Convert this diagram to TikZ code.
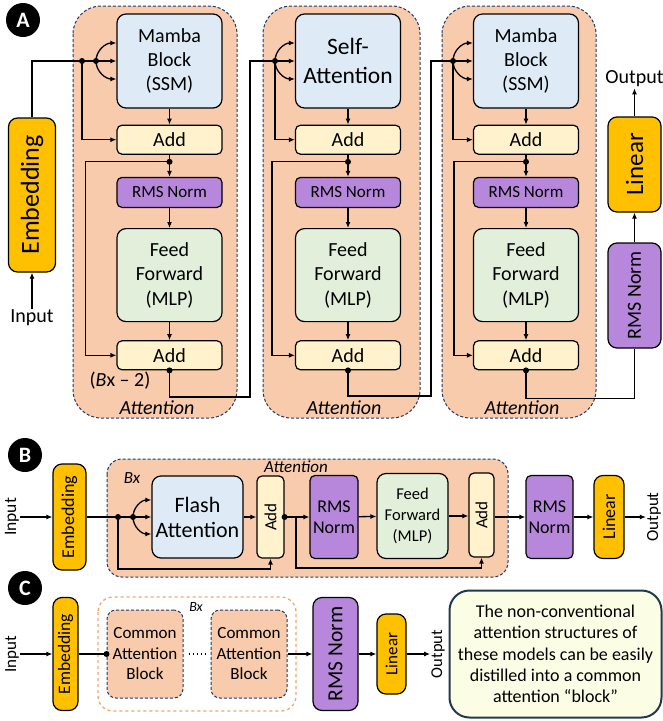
\documentclass[tikz,border=0pt]{standalone}
\usepackage{fontspec}
\setmainfont{Carlito}
\usetikzlibrary{positioning,calc,arrows.meta}
\definecolor{embc}{HTML}{FFC000}
\definecolor{peach}{HTML}{F8CBAD}
\definecolor{ssmc}{HTML}{DEEBF7}
\definecolor{addc}{HTML}{FFF2CC}
\definecolor{rmsc}{HTML}{B687DA}
\definecolor{ffc}{HTML}{E2EFDA}
\definecolor{dashc}{HTML}{203864}
\definecolor{orgc}{HTML}{F4A46C}
\definecolor{notec}{HTML}{FCFDE5}
\definecolor{notebd}{HTML}{1F3A4D}
\newcommand{\fsz}[2]{\fontsize{#1}{#2}\selectfont}

\begin{document}
\begin{tikzpicture}[x=1pt,y=-1pt,
  bx/.style={draw,line width=1.2pt,rounded corners=9pt,align=center,inner sep=0pt},
  ssm/.style={bx,fill=ssmc,minimum width=105pt,minimum height=94pt,font=\fsz{20}{24}},
  addb/.style={bx,fill=addc,rounded corners=5pt,minimum width=105pt,minimum height=29pt,font=\fsz{20}{24}},
  rms/.style={bx,fill=rmsc,rounded corners=5pt,minimum width=105pt,minimum height=30pt,font=\fsz{17}{20}},
  ffn/.style={bx,fill=ffc,minimum width=105pt,minimum height=93pt,font=\fsz{20}{24.5}},
  yel/.style={bx,fill=embc},
  cont/.style={draw=dashc,dash pattern=on 3pt off 2pt,line width=1pt,fill=peach},
  ln/.style={line width=1.3pt},
  ar/.style={ln,-{Latex[length=6pt,width=5pt]}},
  txt/.style={inner sep=1pt,font=\fsz{20}{24}},
  lbl/.style={inner sep=1pt,font=\fsz{20}{24}\itshape},
  badge/.style={circle,fill=black,text=white,inner sep=0pt,minimum size=34pt,font=\fsz{22}{24}\bfseries}]
\useasboundingbox (0,0) rectangle (663,721);

% ---- A: hybrid stack
\node[badge] (la) at (23,20) {A};
\draw[cont,rounded corners=28pt] (73,6) rectangle (237,418);
\draw[cont,rounded corners=28pt] (263,6) rectangle (420,418);
\draw[cont,rounded corners=28pt] (442,6) rectangle (596,418);

\node[yel,rotate=90,minimum width=154pt,minimum height=47pt,font=\fsz{26}{30}] (emba) at (32,195) {Embedding};
\node[txt] (ina) at (32,318) {Input};
\draw[ar] (ina) -- (emba);

\node[ssm] (mb1) at (169.5,61) {Mamba\\Block\\(SSM)};
\node[addb,below=16pt of mb1] (ad1a) {Add};
\node[rms,below=22pt of ad1a] (rn1) {RMS Norm};
\node[ffn,below=20pt of rn1] (ff1) {Feed\\Forward\\(MLP)};
\node[addb,below=18pt of ff1] (ad1b) {Add};

\node[ssm,font=\fsz{23.5}{29}] (sa2) at (348,61) {Self-\\Attention};
\node[addb,below=16pt of sa2] (ad2a) {Add};
\node[rms,below=22pt of ad2a] (rn2) {RMS Norm};
\node[ffn,below=20pt of rn2] (ff2) {Feed\\Forward\\(MLP)};
\node[addb,below=18pt of ff2] (ad2b) {Add};

\node[ssm] (mb3) at (526,61) {Mamba\\Block\\(SSM)};
\node[addb,below=16pt of mb3] (ad3a) {Add};
\node[rms,below=22pt of ad3a] (rn3) {RMS Norm};
\node[ffn,below=20pt of rn3] (ff3) {Feed\\Forward\\(MLP)};
\node[addb,below=18pt of ff3] (ad3b) {Add};

\node[txt] (rep) at (120,381) {(\textit{B}x – 2)};
\node[lbl] (at1) at (157,408) {Attention};
\node[lbl] (at2) at (344,408) {Attention};
\node[lbl] (at3) at (522,408) {Attention};

\node[bx,fill=rmsc,rotate=90,minimum width=105pt,minimum height=53pt,font=\fsz{20}{24}] (rnf) at (634.5,295.5) {RMS Norm};
\node[yel,rotate=90,minimum width=95pt,minimum height=53pt,font=\fsz{25}{30}] (lina) at (634.5,164.5) {Linear};
\node[txt] (outa) at (634.5,79) {Output};

% block 1
\coordinate (s1) at (82,61); \coordinate (b1) at (96,61);
\draw[ln] (emba.east) |- (s1) -- (b1);
\draw[ar] (b1) -- (mb1.west);
\draw[ar] (b1) to[out=90,in=180] ([yshift=18pt]mb1.west);
\draw[ar] (b1) to[out=-90,in=180] ([yshift=-18pt]mb1.west);
\draw[ar] (s1) |- (ad1a.west);
\draw[ar] (mb1) -- (ad1a); \draw[ar] (ad1a) -- (rn1);
\draw[ar] (rn1) -- (ff1); \draw[ar] (ff1) -- (ad1b);
\coordinate (r1) at ([yshift=-7pt]ad1a.south);
\draw[ar] (r1) -- ++(-84pt,0) |- (ad1b.west);
\fill (s1) circle (3pt); \fill (b1) circle (3pt); \fill (r1) circle (3pt);
% block 2
\coordinate (s2) at (275,61);
\draw[ln] (ad1b.south) |- (250,397) |- (s2);
\draw[ar] (s2) -- (sa2.west);
\draw[ar] (s2) to[out=90,in=180] ([yshift=18pt]sa2.west);
\draw[ar] (s2) to[out=-90,in=180] ([yshift=-18pt]sa2.west);
\draw[ar] (s2) |- (ad2a.west);
\draw[ar] (sa2) -- (ad2a); \draw[ar] (ad2a) -- (rn2);
\draw[ar] (rn2) -- (ff2); \draw[ar] (ff2) -- (ad2b);
\coordinate (r2) at ([yshift=-7pt]ad2a.south);
\draw[ar] (r2) -- ++(-76pt,0) |- (ad2b.west);
\fill (ad1b.south) circle (3pt); \fill (s2) circle (3pt); \fill (r2) circle (3pt);
% block 3
\coordinate (s3) at (453,61);
\draw[ln] (ad2b.south) |- (431,396) |- (s3);
\draw[ar] (s3) -- (mb3.west);
\draw[ar] (s3) to[out=90,in=180] ([yshift=18pt]mb3.west);
\draw[ar] (s3) to[out=-90,in=180] ([yshift=-18pt]mb3.west);
\draw[ar] (s3) |- (ad3a.west);
\draw[ar] (mb3) -- (ad3a); \draw[ar] (ad3a) -- (rn3);
\draw[ar] (rn3) -- (ff3); \draw[ar] (ff3) -- (ad3b);
\coordinate (r3) at ([yshift=-7pt]ad3a.south);
\draw[ar] (r3) -- ++(-72pt,0) |- (ad3b.west);
\fill (ad2b.south) circle (3pt); \fill (s3) circle (3pt); \fill (r3) circle (3pt);
% head (rotated nodes: west = bottom, east = top)
\draw[ln] (ad3b.south) -- ++(0,-28pt) -| (rnf.west);
\fill (ad3b.south) circle (3pt);
\draw[ar] (rnf.east) -- (lina.west);
\draw[ar] (lina.east) -- (outa.south);

% ---- B: transformer
\node[badge] (lb) at (25,455) {B};
\draw[cont,rounded corners=15pt] (107,459) rectangle (508,577);
\node[lbl,font=\fsz{17}{20}\itshape] (bxb) at (132,478) {Bx};
\node[lbl,font=\fsz{17}{20}\itshape] (atb) at (296,467) {Attention};
\node[txt,rotate=90,font=\fsz{17.5}{21}] (inb) at (12,517) {Input};
\node[yel,rotate=90,minimum width=106pt,minimum height=33pt,font=\fsz{18}{21}] (embb) at (69.5,517) {Embedding};
\node[ssm,minimum width=91pt,minimum height=82pt,font=\fsz{22}{25}] (fa) at (197.5,517) {Flash\\Attention};
\node[addb,rotate=90,minimum width=82pt,minimum height=27pt,font=\fsz{17}{20}] (adb1) at (270.5,517) {Add};
\node[rms,minimum width=48pt,minimum height=83pt,font=\fsz{18}{21.5}] (rnb1) at (334,517) {RMS\\Norm};
\node[ffn,minimum width=71pt,minimum height=85pt,font=\fsz{16.5}{21}] (ffb) at (412.5,516) {Feed\\Forward\\(MLP)};
\node[addb,rotate=90,minimum width=84pt,minimum height=25pt,font=\fsz{17}{20}] (adb2) at (481.5,515) {Add};
\node[rms,minimum width=47pt,minimum height=83pt,font=\fsz{18}{21.5}] (rnb2) at (549.5,517) {RMS\\Norm};
\node[yel,rotate=90,minimum width=83pt,minimum height=30pt,font=\fsz{18}{21}] (linb) at (609,517) {Linear};
\node[txt,rotate=90,font=\fsz{17}{20}] (outb) at (654,517) {Output};

\coordinate (sb) at (118,517); \coordinate (bb) at (133,517); \coordinate (kb) at (296,517);
\draw[ar] (inb.south) -- (embb.north);
\draw[ln] (embb.south) -- (bb);
\draw[ar] (bb) -- (fa.west);
\draw[ar] (bb) to[out=90,in=180] ([yshift=17pt]fa.west);
\draw[ar] (bb) to[out=-90,in=180] ([yshift=-17pt]fa.west);
\draw[ar] (sb) -- ++(0,-52pt) -| (adb1.west);
\draw[ar] (fa.east) -- (adb1.north);
\draw[ar] (adb1.south) -- (rnb1.west);
\draw[ar] (kb) -- ++(0,-51pt) -| (adb2.west);
\draw[ar] (rnb1) -- (ffb);
\draw[ar] (ffb) -- (adb2.north |- ffb);
\draw[ar] (adb2.south |- rnb2) -- (rnb2.west);
\draw[ar] (rnb2) -- (linb.north);
\draw[ar] (linb.south) -- (outb.north);
\fill (sb) circle (3pt); \fill (bb) circle (3pt); \fill (adb1.south) circle (3pt);

% ---- C: common block
\node[badge] (lc) at (25,588) {C};
\draw[draw=orgc,dashed,line width=1.3pt,rounded corners=15pt] (98,597) rectangle (296,711);
\node[lbl,font=\fsz{14}{16}\itshape] (bxc) at (196,607) {Bx};
\node[bx,fill=peach,draw=dashc,dash pattern=on 3pt off 2pt,line width=1pt,minimum width=76pt,minimum height=88pt,font=\fsz{17}{20.5}] (cab1) at (145,654) {Common\\Attention\\Block};
\node[bx,fill=peach,draw=dashc,dash pattern=on 3pt off 2pt,line width=1pt,minimum width=76pt,minimum height=88pt,font=\fsz{17}{20.5}] (cab2) at (249,654) {Common\\Attention\\Block};
\node[txt,rotate=90,font=\fsz{17}{20}] (inc) at (12,654) {Input};
\node[yel,rotate=90,minimum width=113pt,minimum height=25pt,font=\fsz{17.5}{21}] (embc) at (65.5,654) {Embedding};
\node[bx,fill=rmsc,rotate=90,minimum width=113pt,minimum height=45pt,font=\fsz{21.5}{25}] (rnc) at (335.5,654) {RMS Norm};
\node[yel,rotate=90,minimum width=80pt,minimum height=29pt,font=\fsz{17}{20}] (linc) at (391.5,654) {Linear};
\node[txt,rotate=90,font=\fsz{16.5}{20}] (outc) at (438,654) {Output};
\node[bx,fill=notec,draw=notebd,line width=2pt,rounded corners=20pt,minimum width=212pt,minimum height=127pt,font=\fsz{18}{21.3}] (note) at (555.5,654) {The non-conventional\\attention structures of\\these models can be easily\\distilled into a common\\attention “block”};

\draw[ar] (inc.south) -- (embc.north);
\draw[ln] (embc.south) -- (cab1.west);
\fill (cab1.west) circle (3pt);
\draw[ln,dash pattern=on 1.5pt off 2.5pt] ([xshift=5pt]cab1.east) -- ([xshift=-5pt]cab2.west);
\draw[ar] (cab2.east) -- (rnc.north);
\draw[ar] (rnc.south) -- (linc.north);
\draw[ar] (linc.south) -- (outc.north);
\end{tikzpicture}
\end{document}
